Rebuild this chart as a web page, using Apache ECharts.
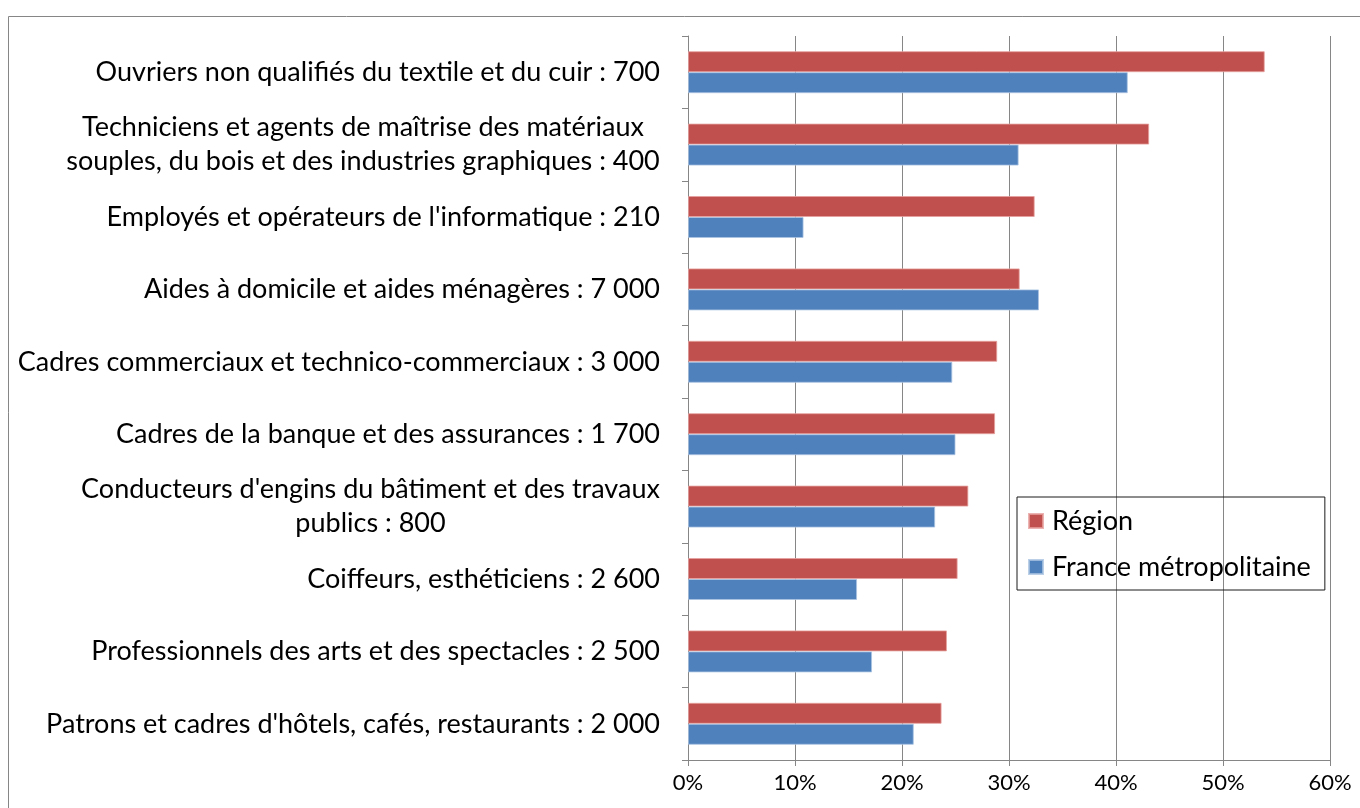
<!DOCTYPE html>
<html>
<head>
<meta charset="utf-8">
<script src="https://cdn.jsdelivr.net/npm/echarts@6/dist/echarts.min.js"></script>
<style>
	html, body { margin: 0; padding: 0; background: #fff; }
	#chart { width: 1360px; height: 808px; }
</style>
</head>
<body>
<div id="chart"></div>
<script>
// categories, top to bottom
var categories = [
	'Ouvriers non qualifiés du textile et du cuir : 700',
	'Techniciens et agents de maîtrise des matériaux\nsouples, du bois et des industries graphiques : 400',
	"Employés et opérateurs de l'informatique : 210",
	'Aides à domicile et aides ménagères : 7 000',
	'Cadres commerciaux et technico-commerciaux : 3 000',
	'Cadres de la banque et des assurances : 1 700',
	"Conducteurs d'engins du bâtiment et des travaux\npublics : 800",
	'Coiffeurs, esthéticiens : 2 600',
	'Professionnels des arts et des spectacles : 2 500',
	"Patrons et cadres d'hôtels, cafés, restaurants : 2 000"
]
var regionValues = [53.9, 43.1, 32.4, 31.0, 28.9, 28.7, 26.2, 25.2, 24.2, 23.7]
var franceValues = [41.1, 30.9, 10.8, 32.8, 24.7, 25.0, 23.1, 15.8, 17.2, 21.1]
var xTicks = ['0%', '10%', '20%', '30%', '40%', '50%', '60%']

var FONT = 'Lato'
var LABEL_SIZE = 27

// wrapped labels are centred as a block, like the original spreadsheet
var ctx = document.createElement('canvas').getContext('2d')
ctx.font = LABEL_SIZE + 'px ' + FONT
var rich = {}
var labelKeys = categories.map(function (c, i) {
	var lines = c.split('\n')
	if (lines.length < 2) return null
	var w = Math.max.apply(null, lines.map(function (l) { return ctx.measureText(l).width }))
	rich['b' + i] = { width: Math.ceil(w), align: 'center', fontSize: LABEL_SIZE, fontFamily: FONT, color: '#000', lineHeight: 34 }
	return 'b' + i
})

var chart = echarts.init(document.getElementById('chart'))
chart.setOption({
	animation: false,
	backgroundColor: '#fff',
	graphic: [{
		type: 'rect',
		shape: { x: 8.5, y: 16.5, width: 1400, height: 900 },
		style: { fill: 'none', stroke: '#868686', lineWidth: 1 },
		silent: true,
		z: -1
	}],
	grid: {
		left: 688,
		right: 30,
		top: 36,
		bottom: 48
	},
	legend: {
		orient: 'vertical',
		left: 1017,
		top: 497,
		padding: [9, 14, 8, 11],
		itemWidth: 14,
		itemHeight: 14,
		itemGap: 16,
		borderColor: '#1a1a1a',
		borderWidth: 1,
		icon: 'rect',
		textStyle: { fontFamily: FONT, fontSize: LABEL_SIZE, color: '#000', lineHeight: 30, padding: [0, 0, 0, 4] },
		data: ['Région', 'France métropolitaine']
	},
	xAxis: {
		type: 'value',
		min: 0,
		max: 60,
		interval: 10,
		axisLine: { show: true, lineStyle: { color: '#868686' } },
		axisTick: { show: true, length: 6, lineStyle: { color: '#868686' } },
		splitLine: { show: true, lineStyle: { color: '#868686' } },
		axisLabel: {
			margin: 12,
			fontFamily: FONT,
			fontSize: 22,
			color: '#000',
			formatter: function (v) { return xTicks[Math.round(v / 10)] }
		}
	},
	yAxis: {
		type: 'category',
		inverse: true,
		data: categories,
		axisLine: { show: true, lineStyle: { color: '#868686' } },
		axisTick: { show: true, length: 6, lineStyle: { color: '#868686' } },
		splitLine: { show: false },
		axisLabel: {
			margin: 28,
			fontFamily: FONT,
			fontSize: LABEL_SIZE,
			color: '#000',
			lineHeight: 34,
			rich: rich,
			formatter: function (v, i) {
				var k = labelKeys[i]
				if (!k) return v
				return v.split('\n').map(function (l) { return '{' + k + '|' + l + '}' }).join('\n')
			}
		}
	},
	series: [
		{
			name: 'Région',
			type: 'bar',
			data: regionValues,
			barGap: '0%',
			barCategoryGap: '42%',
			itemStyle: { color: '#C0504D', borderColor: 'rgba(230,160,158,0.8)', borderWidth: 1 }
		},
		{
			name: 'France métropolitaine',
			type: 'bar',
			data: franceValues,
			barGap: '0%',
			barCategoryGap: '42%',
			itemStyle: { color: '#4F81BD', borderColor: 'rgba(170,195,225,0.8)', borderWidth: 1 }
		}
	]
})
</script>
</body>
</html>
